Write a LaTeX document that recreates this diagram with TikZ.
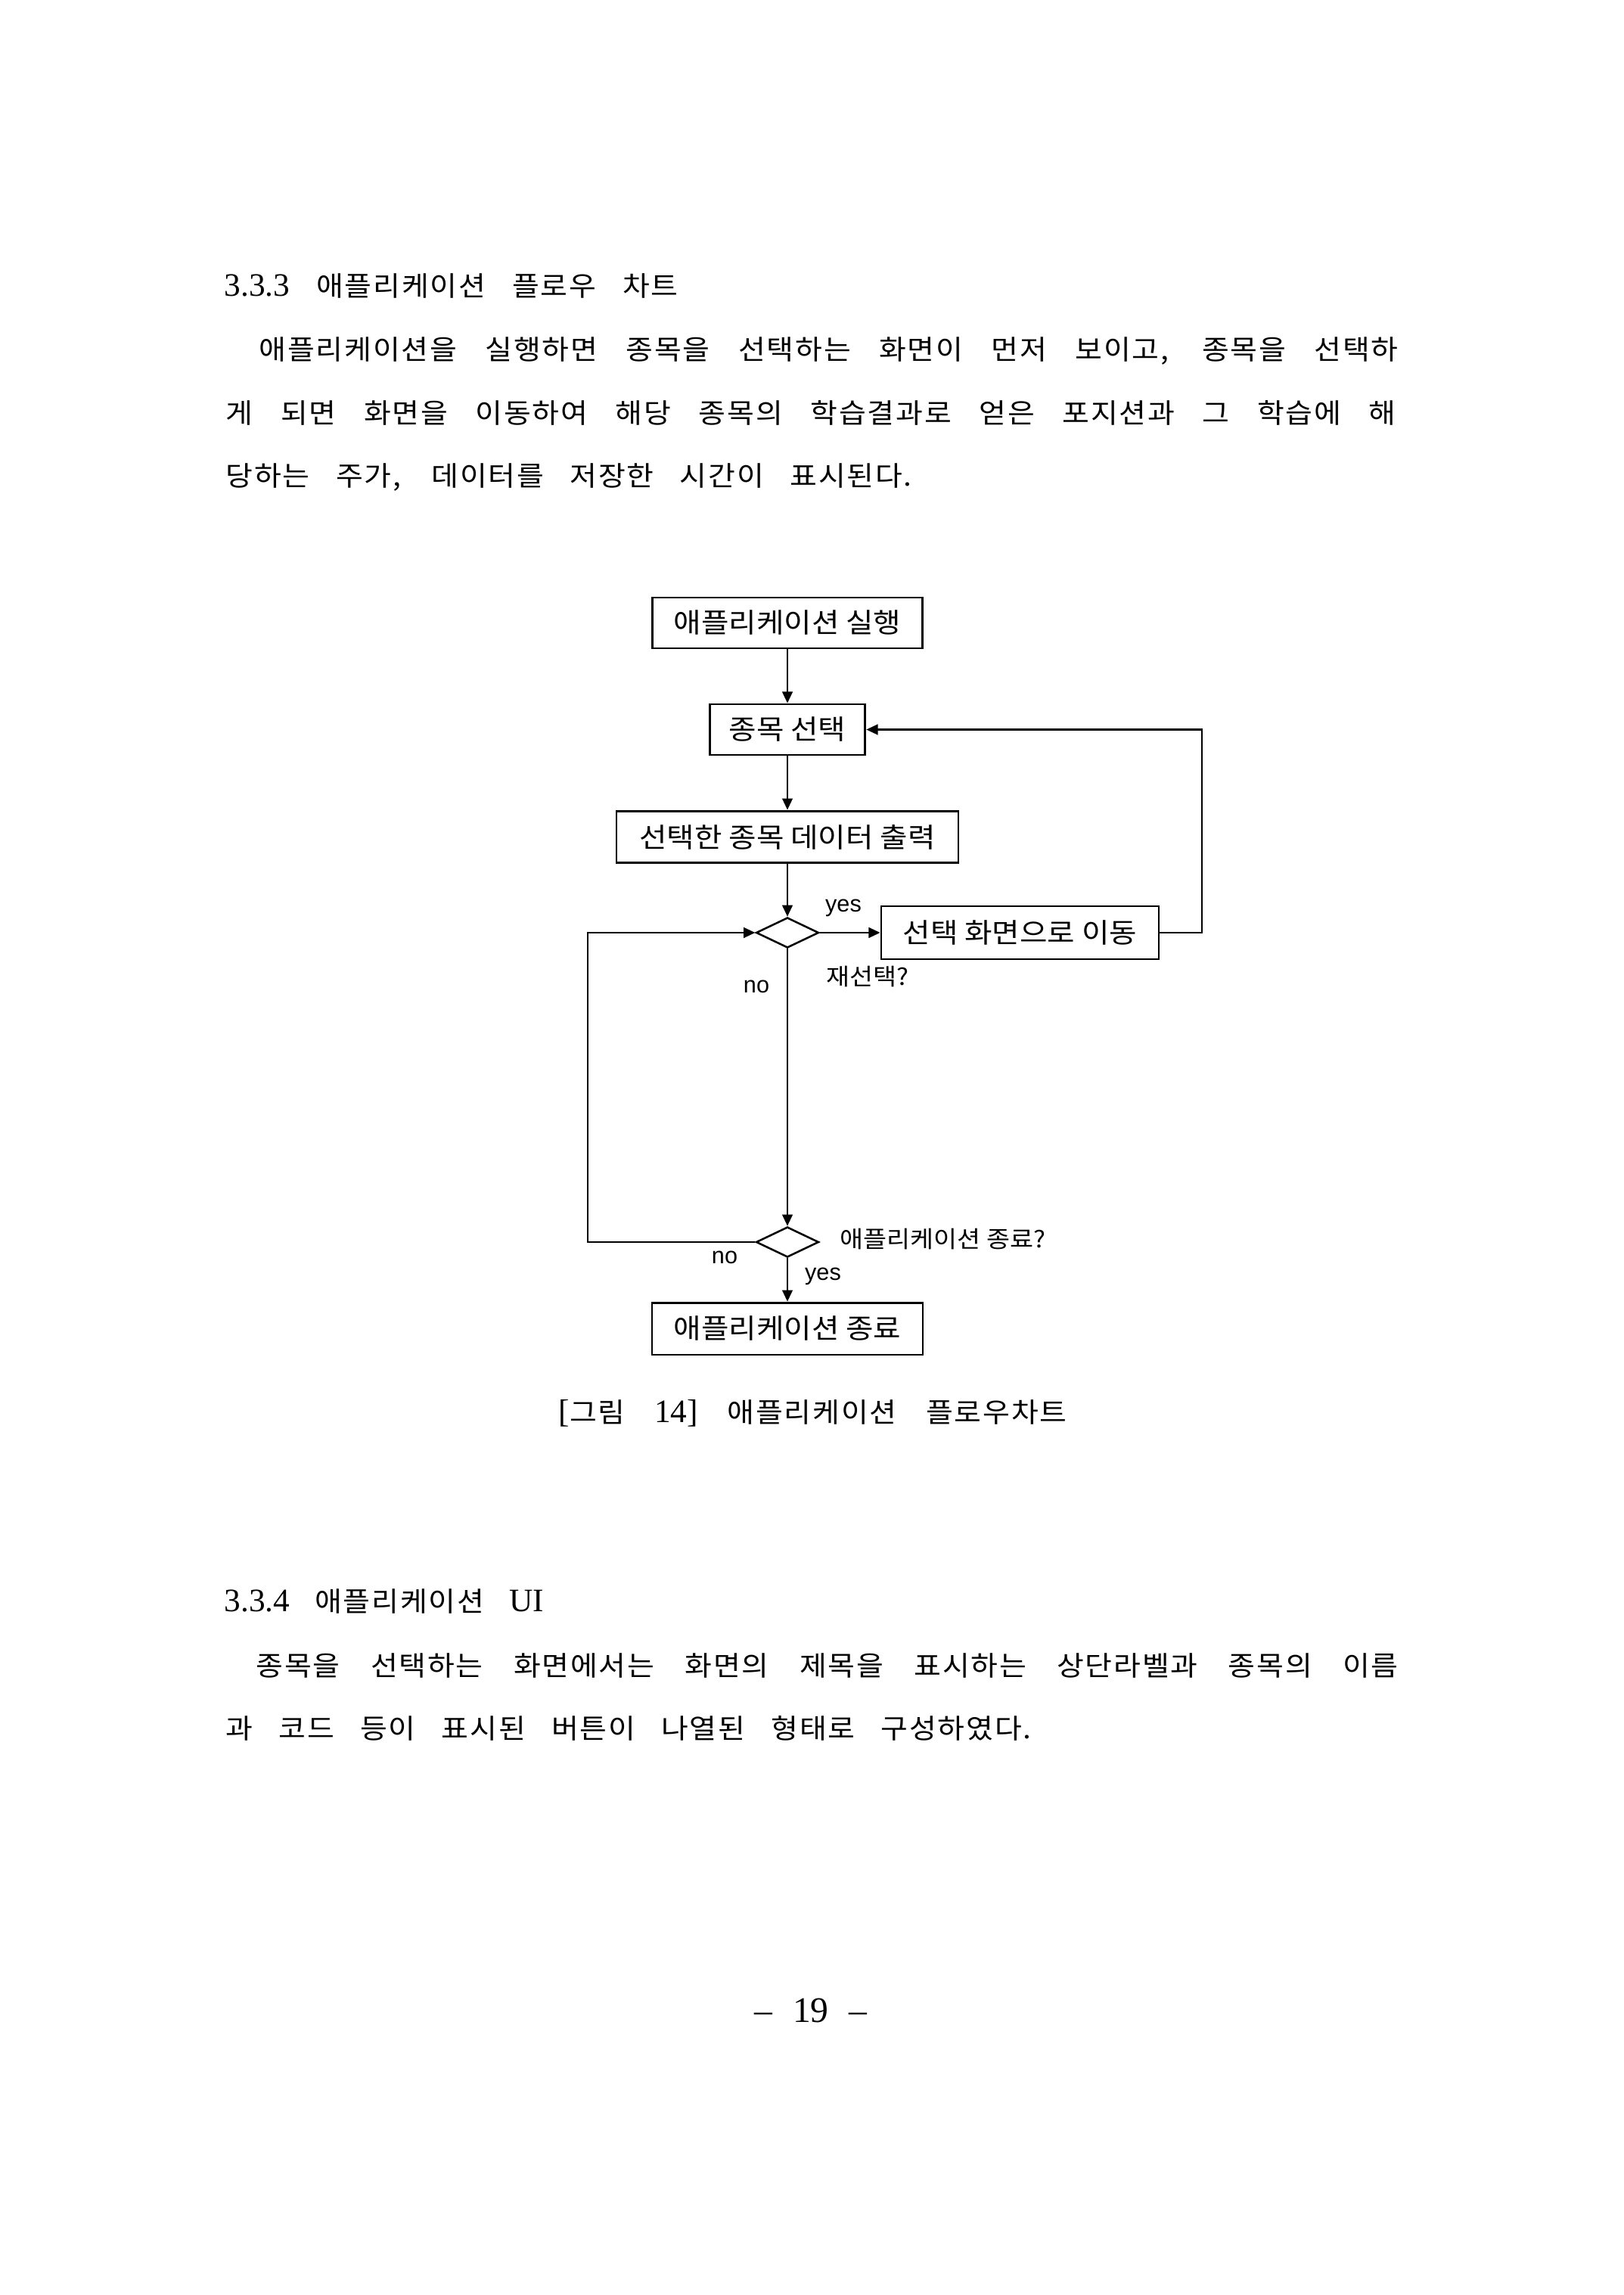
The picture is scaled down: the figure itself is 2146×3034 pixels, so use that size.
\documentclass[tikz,border=0pt]{standalone}
\usepackage{fontspec}
\setmainfont{Noto Sans CJK KR}
\newfontfamily\kr[FakeStretch=1.08, LetterSpace=5]{Noto Sans CJK KR}
\newfontfamily\lat[Scale=1.2]{Liberation Serif}
\newfontfamily\fk[FakeStretch=1.1]{Noto Sans CJK KR}
\newfontfamily\fl{Liberation Sans}
\usetikzlibrary{shapes.geometric,arrows.meta}
\tikzset{
  txt/.style={anchor=base west, inner sep=0pt, font=\kr\fontsize{10pt}{12pt}\selectfont},
  fbox/.style={draw, line width=0.8pt, inner sep=0pt, font=\fk\fontsize{10pt}{12pt}\selectfont},
  dec/.style={draw, diamond, line width=0.7pt, inner sep=0pt, minimum width=23pt, minimum height=11.1pt},
  arr/.style={line width=0.6pt, -{Triangle[length=4.2pt,width=3.8pt]}},
  lbl/.style={inner sep=0pt, font=\fk\fontsize{8.5pt}{10pt}\selectfont},
  yn/.style={inner sep=0pt, anchor=base, font=\fl\fontsize{8.5pt}{10pt}\selectfont}
}
\begin{document}
\begin{tikzpicture}[x=0.2774pt, y=-0.2774pt]
\fill[white] (0,0) rectangle (2146,3034);
\useasboundingbox (0,0) rectangle (2146,3034);

% body text
\node[txt] (h1) at (296,392) {\makebox[166.4pt][s]{{\lat 3.3.3} 애플리케이션 플로우 차트}};
\node[txt] (p1) at (342,476) {\makebox[417.8pt][s]{애플리케이션을 실행하면 종목을 선택하는 화면이 먼저 보이고, 종목을 선택하}};
\node[txt] (p2) at (298,559) {\makebox[429.1pt][s]{게 되면 화면을 이동하여 해당 종목의 학습결과로 얻은 포지션과 그 학습에 해}};
\node[txt] (p3) at (298,642) {\makebox[251.6pt][s]{당하는 주가, 데이터를 저장한 시간이 표시된다.}};

% flowchart
\node[fbox, minimum width=99pt, minimum height=18.6pt] (b1) at (1041,823.5) {애플리케이션 실행};
\node[fbox, minimum width=57.1pt, minimum height=18.6pt] (b2) at (1041,964.5) {종목 선택};
\node[fbox, minimum width=125.4pt, minimum height=19.1pt] (b3) at (1041,1106.5) {선택한 종목 데이터 출력};
\node[dec] (d1) at (1041,1233) {};
\node[fbox, minimum width=101.8pt, minimum height=19.4pt] (b4) at (1348.5,1233) {선택 화면으로 이동};
\node[dec] (d2) at (1041,1642) {};
\node[fbox, minimum width=99.3pt, minimum height=19.1pt] (b5) at (1041,1756.5) {애플리케이션 종료};

\coordinate (rc) at (1589,1233);
\coordinate (lc) at (777,1642);

\draw[arr] (b1) -- (b2);
\draw[arr] (b2) -- (b3);
\draw[arr] (b3) -- (d1);
\draw[arr] (d1) -- (b4);
\draw[arr] (b4.east) -- (rc) |- (b2.east);
\draw[arr] (d1) -- (d2);
\draw[arr] (d2.west) -- (lc) |- (d1.west);
\draw[arr] (d2) -- (b5);

\node[yn] (y1) at (1115,1205) {yes};
\node[lbl, anchor=west] (q1) at (1092,1291) {재선택?};
\node[yn] (n1) at (1000,1312) {no};
\node[lbl, anchor=west] (q2) at (1110,1638) {애플리케이션 종료?};
\node[yn] (n2) at (958,1670) {no};
\node[yn] (y2) at (1088,1692) {yes};

% caption
\node[txt] (cap) at (738,1880) {\makebox[186.4pt][s]{{\lat [}그림 {\lat 14]} 애플리케이션 플로우차트}};

% section 3.3.4
\node[txt] (h2) at (296,2130) {\makebox[117.1pt][s]{{\lat 3.3.4} 애플리케이션 {\lat UI}}};
\node[txt] (s1) at (338,2215) {\makebox[418.9pt][s]{종목을 선택하는 화면에서는 화면의 제목을 표시하는 상단라벨과 종목의 이름}};
\node[txt] (s2) at (298,2298) {\makebox[295.4pt][s]{과 코드 등이 표시된 버튼이 나열된 형태로 구성하였다.}};

% page number
\node[inner sep=0pt, anchor=base] (pg) at (1072,2673) {\makebox[41.3pt][s]{\lat\fontsize{11pt}{13pt}\selectfont – 19 –}};
\end{tikzpicture}
\end{document}
